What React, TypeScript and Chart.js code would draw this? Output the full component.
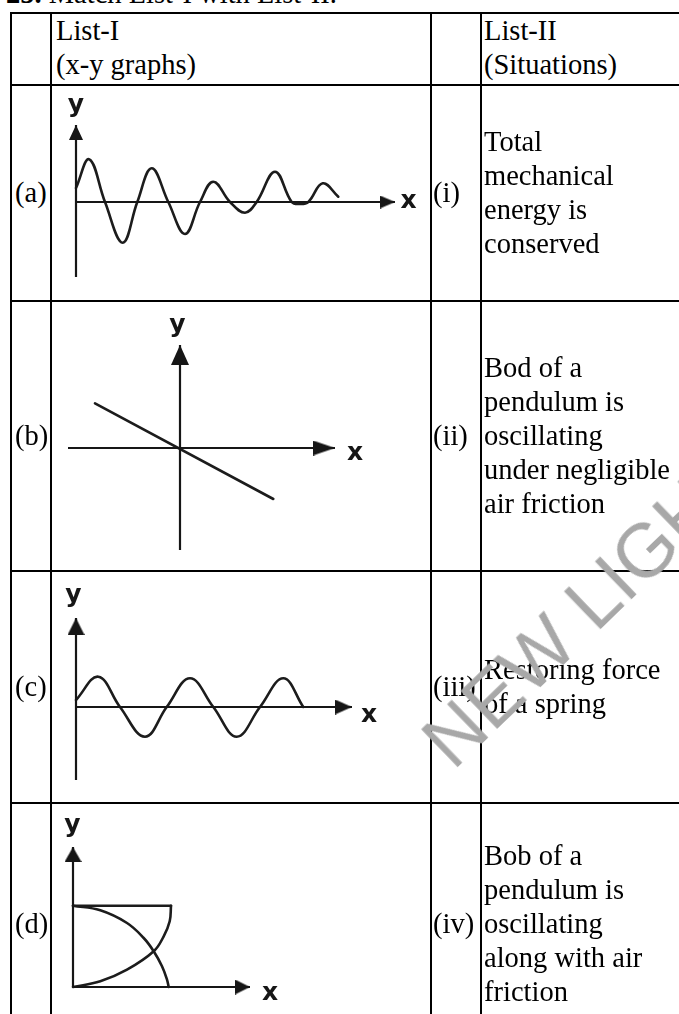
import React, { useEffect, useRef } from 'react';
import { Chart, registerables } from 'chart.js';

Chart.register(...registerables);

// ---------------- text content ----------------
const titleNumber = '25.';
const titleText = ' Match List-I with List-II.';
const headerLeft = ['List-I', '(x-y graphs)'];
const headerRight = ['List-II', '(Situations)'];
const graphLabels = ['(a)', '(b)', '(c)', '(d)'];
const situationLabels = ['(i)', '(ii)', '(iii)', '(iv)'];
const situationLines = [
  ['Total', 'mechanical', 'energy is', 'conserved'],
  ['Bod of a', 'pendulum is', 'oscillating', 'under negligible', 'air friction'],
  ['Restoring force', 'of a spring'],
  ['Bob of a', 'pendulum is', 'oscillating', 'along with air', 'friction'],
];
const watermarkText = 'NEW LIGHT';

// ---------------- graph (a): damped oscillation ----------------
const dampedX = [0, 1.33, 2.9, 4.67, 6.13, 7.57, 9.23, 10.9, 12.4, 13.73, 15.4, 16.9, 18.07, 19.9, 21.57, 22.4, 23.23, 24.67, 26.23];
const dampedY = [1.4, 4.27, 0, -4.07, 0, 3.37, 0, -3.2, 0, 2.03, 0, -1.07, 0, 3.03, 0, -0.2, 0, 1.87, 0.53];
const axisAX = [0, 31.9];
const axisAY = [-7.5, 7.7];

// ---------------- graph (b): straight line through origin ----------------
const lineBX = [-8.5, 9.33];
const lineBY = [4.47, -5.1];
const axisBX = [-11.2, 15.5];
const axisBY = [-10.2, 10.3];

// ---------------- graph (c): undamped oscillation ----------------
const sineX = [0, 2.23, 4.4, 6.9, 9.07, 11.4, 13.73, 16.07, 18.4, 20.73, 22.73];
const sineY = [0.7, 3.03, 0, -2.97, 0, 2.87, 0, -2.97, 0, 2.87, 0];
const axisCX = [0, 27.6];
const axisCY = [-7.3, 8.9];

// ---------------- graph (d): two crossing arcs ----------------
const arcFallX = [0, 2.73, 5.4, 7.07, 8.07, 8.9, 9.4, 9.57];
const arcFallY = [8.13, 7.67, 6.4, 4.9, 3.57, 2.07, 0.73, 0];
const arcRiseX = [0, 2.73, 5.4, 8.07, 9.07, 9.67, 9.8];
const arcRiseY = [0, 0.57, 1.73, 3.57, 5.07, 6.57, 8.13];
const capX = [0, 9.8];
const capY = [8.13, 8.13];
const axisDX = [0, 17.7];
const axisDY = [0, 14.0];

// axis label anchors [x, y] in graph units
const labelsA = [[0, 9.0], [33.25, -0.6]];
const labelsB = [[-0.25, 11.6], [17.5, -1.2]];
const labelsC = [[-0.27, 10.5], [29.3, -1.5]];
const labelsD = [[-0.07, 15.5], [19.7, -1.3]];

// ---------------- styling ----------------
const INK = '#1c1c1c';
const AXIS = '#161616';
const SERIF = '"Liberation Serif", "Times New Roman", serif';

function makeArrow(len: number, width: number) {
  // arrow pointing up; the tip sits at the canvas centre
  const c = document.createElement('canvas');
  c.width = Math.round(width);
  c.height = Math.round(len * 2);
  const g = c.getContext('2d')!;
  g.fillStyle = AXIS;
  g.beginPath();
  g.moveTo(c.width / 2, len);
  g.lineTo(c.width, len * 2);
  g.lineTo(0, len * 2);
  g.closePath();
  g.fill();
  return c;
}

const pts = (xs: number[], ys: number[]) => xs.map((x, i) => ({ x, y: ys[i] }));

function curve(xs: number[], ys: number[], tension = 0.4) {
  return {
    data: pts(xs, ys),
    borderColor: INK,
    borderWidth: 2.6,
    borderCapStyle: 'round',
    borderJoinStyle: 'round',
    pointRadius: 0,
    tension,
    fill: false,
  };
}

function xAxisSet(ext: number[], len: number, w: number) {
  return {
    data: [{ x: ext[0], y: 0 }, { x: ext[1], y: 0 }],
    borderColor: AXIS,
    borderWidth: 2.2,
    pointRadius: [0, 6],
    pointStyle: makeArrow(len, w),
    pointRotation: 90,
    tension: 0,
    fill: false,
  };
}

function yAxisSet(ext: number[], len: number, w: number) {
  return {
    data: [{ x: 0, y: ext[0] }, { x: 0, y: ext[1] }],
    borderColor: AXIS,
    borderWidth: 2.2,
    pointRadius: [0, 6],
    pointStyle: makeArrow(len, w),
    pointRotation: 0,
    tension: 0,
    fill: false,
  };
}

const axisLabelPlugin = {
  id: 'axisLabels',
  afterDatasetsDraw(chart: any, _args: any, opts: any) {
    const { ctx } = chart;
    const xs = chart.scales.x;
    const ys = chart.scales.y;
    ctx.save();
    ctx.font = 'bold 25px "DejaVu Sans", sans-serif';
    ctx.fillStyle = AXIS;
    ctx.textAlign = 'center';
    ctx.textBaseline = 'alphabetic';
    const texts = ['y', 'x'];
    (opts.anchors || []).forEach((a: number[], i: number) => {
      ctx.fillText(texts[i], xs.getPixelForValue(a[0]), ys.getPixelForValue(a[1]));
    });
    ctx.restore();
  },
};

type GraphProps = {
  width: number;
  height: number;
  xr: number[];
  yr: number[];
  build: () => any[];
  anchors: number[][];
};

function Graph({ width, height, xr, yr, build, anchors }: GraphProps) {
  const ref = useRef<HTMLCanvasElement>(null);
  useEffect(() => {
    const chart = new Chart(ref.current as HTMLCanvasElement, {
      type: 'line',
      data: { datasets: build() as any },
      options: {
        animation: false,
        responsive: false,
        maintainAspectRatio: false,
        events: [],
        layout: { padding: 0, autoPadding: false },
        plugins: {
          legend: { display: false },
          tooltip: { enabled: false },
          axisLabels: { anchors },
        } as any,
        scales: {
          x: { type: 'linear', min: xr[0], max: xr[1], display: false },
          y: { type: 'linear', min: yr[0], max: yr[1], display: false },
        },
      },
      plugins: [axisLabelPlugin as any],
    });
    return () => chart.destroy();
  }, []);
  return <canvas ref={ref} width={width} height={height} style={{ display: 'block', width, height }} />;
}

// ---------------- layout ----------------
const COLS = [38, 378, 48, 240];
const ROWS = [70, 214, 268, 230, 240];
const LINE = '2px solid #000';
const PADS = [3, 4, 1, 2];

function Cell({ col, row, top, children }: { col: number; row: number; top?: boolean; children?: any }) {
  return (
    <td style={{ padding: 0, borderRight: LINE, borderBottom: LINE, verticalAlign: 'top' }}>
      <div
        style={{
          boxSizing: 'border-box',
          width: COLS[col],
          height: ROWS[row],
          paddingLeft: PADS[col],
          display: 'flex',
          alignItems: top ? 'flex-start' : 'center',
          whiteSpace: 'nowrap',
          overflow: 'visible',
        }}
      >
        <div>{children}</div>
      </div>
    </td>
  );
}

const graphs = [
  {
    xr: [-2.4, 35.4],
    yr: [-9.8, 11.6],
    anchors: labelsA,
    build: () => [yAxisSet(axisAY, 15, 14), xAxisSet(axisAX, 15, 13), curve(dampedX, dampedY)],
  },
  {
    xr: [-12.8, 25.0],
    yr: [-12.2, 14.6],
    anchors: labelsB,
    build: () => [yAxisSet(axisBY, 20, 18), xAxisSet(axisBX, 22, 15), curve(lineBX, lineBY, 0)],
  },
  {
    xr: [-2.4, 35.4],
    yr: [-9.5, 13.5],
    anchors: labelsC,
    build: () => [yAxisSet(axisCY, 17, 17), xAxisSet(axisCX, 17, 15), curve(sineX, sineY)],
  },
  {
    xr: [-2.1, 35.7],
    yr: [-5.7, 18.3],
    anchors: labelsD,
    build: () => [
      yAxisSet(axisDY, 15, 17),
      xAxisSet(axisDX, 15, 15),
      curve(capX, capY, 0),
      curve(arcFallX, arcFallY),
      curve(arcRiseX, arcRiseY),
    ],
  },
];

export default function App() {
  return (
    <div
      style={{
        position: 'fixed',
        left: 0,
        top: 0,
        width: 679,
        height: 1014,
        overflow: 'hidden',
        background: '#fff',
        color: '#000',
        fontFamily: SERIF,
        fontSize: 28.5,
        lineHeight: '34px',
      }}
    >
      <div style={{ position: 'absolute', left: 6, top: -22.6, whiteSpace: 'nowrap' }}>
        <b>{titleNumber}</b>
        {titleText}
      </div>
      <table
        style={{
          position: 'absolute',
          left: 10,
          top: 12,
          borderCollapse: 'separate',
          borderSpacing: 0,
          borderTop: LINE,
          borderLeft: LINE,
          fontFamily: SERIF,
          fontSize: 28.5,
          lineHeight: '34px',
        }}
      >
        <tbody>
          <tr>
            <Cell col={0} row={0} top />
            <Cell col={1} row={0} top>
              {headerLeft.map((t) => (
                <div key={t}>{t}</div>
              ))}
            </Cell>
            <Cell col={2} row={0} top />
            <Cell col={3} row={0} top>
              {headerRight.map((t) => (
                <div key={t}>{t}</div>
              ))}
            </Cell>
          </tr>
          {graphs.map((g, i) => (
            <tr key={i}>
              <Cell col={0} row={i + 1}>
                {graphLabels[i]}
              </Cell>
              <td style={{ padding: 0, borderRight: LINE, borderBottom: LINE, verticalAlign: 'top' }}>
                <Graph width={COLS[1]} height={ROWS[i + 1]} xr={g.xr} yr={g.yr} build={g.build} anchors={g.anchors} />
              </td>
              <Cell col={2} row={i + 1}>
                {situationLabels[i]}
              </Cell>
              <Cell col={3} row={i + 1}>
                {situationLines[i].map((t, k) => (
                  <div key={k}>{t}</div>
                ))}
              </Cell>
            </tr>
          ))}
        </tbody>
      </table>
      <div
        style={{
          position: 'absolute',
          left: 587,
          top: 606,
          transform: 'translate(-50%, -50%) rotate(-44deg)',
          fontFamily: '"Liberation Sans", Arial, sans-serif',
          fontSize: 76,
          lineHeight: 1,
          color: '#a8a8a8',
          whiteSpace: 'nowrap',
          pointerEvents: 'none',
        }}
      >
        {watermarkText}
      </div>
    </div>
  );
}
